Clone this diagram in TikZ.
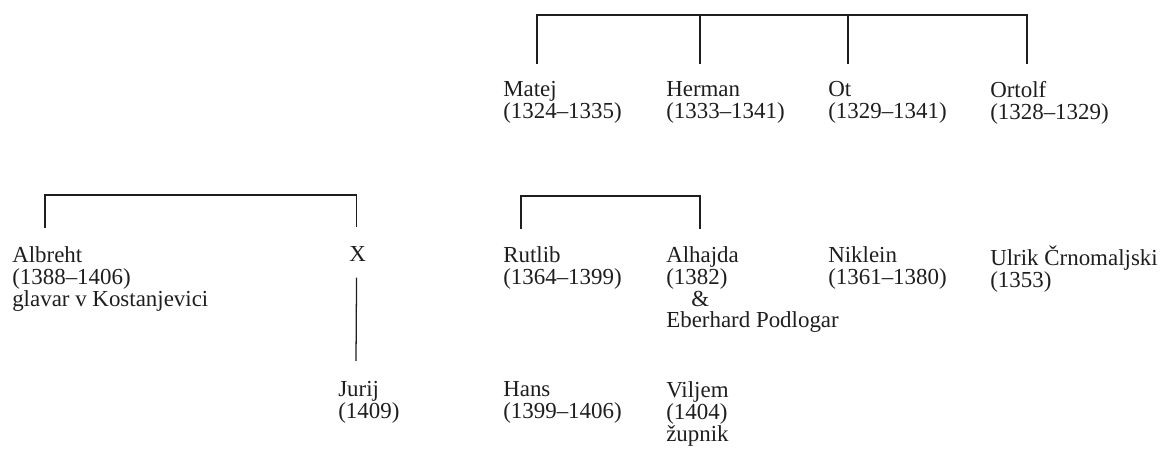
\documentclass[tikz,border=0pt]{standalone}
\usepackage{fontspec}
\setmainfont{Liberation Serif}
\usepackage{tikz}
\usetikzlibrary{positioning,calc}
\definecolor{rodink}{RGB}{30,30,30}

\begin{document}
\begin{tikzpicture}[x=0.025cm,y=-0.025cm,
        oseba/.style={anchor=north west,align=left,inner sep=0pt,text=rodink,
                      font=\fontsize{16.3}{15.6}\selectfont},
        veja/.style={draw=rodink,line width=0.9pt}]
    \useasboundingbox (0,0) rectangle (1160,452);
    % prva vrsta
    \node[oseba] (matej)  at (503,81) {Matej\\(1324--1335)};
    \node[oseba] (herman) at (666,81) {Herman\\(1333--1341)};
    \node[oseba] (ot)     at (828,81) {Ot\\(1329--1341)};
    \node[oseba] (ortolf) at (990,81) {Ortolf\\(1328--1329)};
    \draw[veja] ($(matej.north west)+(34,-17)$) -- ++(0,-49)
        -| ($(ortolf.north west)+(37,-17)$);
    \draw[veja] ($(herman.north west)+(34,-17)$) -- ++(0,-49);
    \draw[veja] ($(ot.north west)+(20,-17)$) -- ++(0,-49);
    % druga vrsta
    \node[oseba] (albreht) at (12,246) {Albreht\\(1388--1406)\\glavar v Kostanjevici};
    \node[oseba] (iks)     at (349,246) {X};
    \node[oseba] (rutlib)  at (503,246) {Rutlib\\(1364--1399)};
    \node[oseba] (alhajda) at (666,246) {Alhajda\\(1382)\\\hspace*{1.1em}\&\\Eberhard Podlogar};
    \node[oseba] (niklein) at (828,246) {Niklein\\(1361--1380)};
    \node[oseba] (ulrik)   at (990,246) {Ulrik Črnomaljski\\(1353)};
    \draw[veja] ($(albreht.north west)+(33,-18)$) -- ++(0,-33)
        -| ($(iks.north)+(-1,-19)$);
    \draw[veja] ($(rutlib.north west)+(18,-17)$) -- ++(0,-33)
        -| ($(alhajda.north west)+(34,-17)$);
    % tretja vrsta
    \node[oseba] (jurij)  at (338,381) {Jurij\\(1409)};
    \node[oseba] (hans)   at (503,381) {Hans\\(1399--1406)};
    \node[oseba] (viljem) at (666,381) {Viljem\\(1404)\\župnik};
    \draw[veja] ($(iks.south)+(-1,16)$) -- ($(jurij.north west)+(18,-20)$);
\end{tikzpicture}
\end{document}
